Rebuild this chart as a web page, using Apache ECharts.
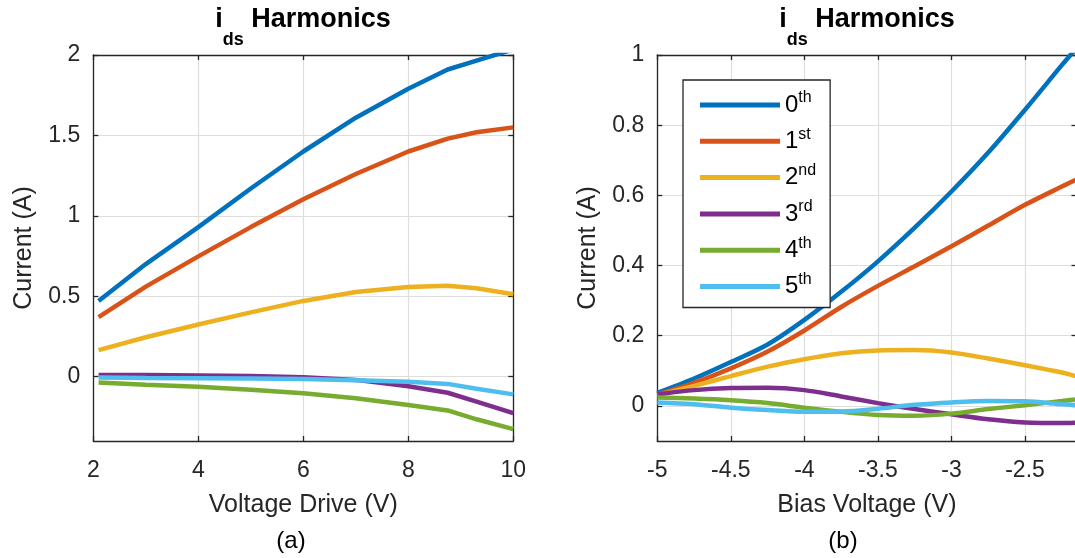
<!DOCTYPE html>
<html>
<head>
<meta charset="utf-8">
<script src="https://cdn.jsdelivr.net/npm/echarts@6/dist/echarts.min.js"></script>
<style>
  html, body { margin: 0; padding: 0; background: #fff; }
  #main { width: 1075px; height: 558px; }
</style>
</head>
<body>
<div id="main"></div>
<script>
// (a) harmonics vs voltage drive
var driveV = [2.1, 3, 4, 5, 6, 7, 8, 8.75, 9.3, 10];
var a_h0 = [0.47, 0.70, 0.93, 1.17, 1.40, 1.61, 1.79, 1.91, 1.965, 2.035];
var a_h1 = [0.37, 0.56, 0.748, 0.93, 1.103, 1.26, 1.40, 1.48, 1.52, 1.55];
var a_h2 = [0.165, 0.245, 0.324, 0.40, 0.471, 0.527, 0.558, 0.565, 0.55, 0.512];
var a_h3 = [0.01, 0.01, 0.008, 0.004, -0.004, -0.02, -0.06, -0.10, -0.155, -0.227];
var a_h4 = [-0.037, -0.05, -0.062, -0.082, -0.103, -0.134, -0.176, -0.21, -0.265, -0.326];
var a_h5 = [-0.005, -0.008, -0.01, -0.012, -0.015, -0.022, -0.032, -0.045, -0.075, -0.11];

// (b) harmonics vs bias voltage
var biasV = [-5, -4.75, -4.5, -4.25, -4, -3.75, -3.5, -3.25, -3, -2.75, -2.5, -2.25, -2.15];
var b_h0 = [0.037, 0.078, 0.125, 0.175, 0.245, 0.325, 0.412, 0.508, 0.611, 0.722, 0.844, 0.971, 1.02];
var b_h1 = [0.033, 0.066, 0.107, 0.155, 0.215, 0.282, 0.342, 0.398, 0.455, 0.514, 0.573, 0.625, 0.645];
var b_h2 = [0.030, 0.057, 0.085, 0.112, 0.133, 0.150, 0.158, 0.159, 0.152, 0.135, 0.116, 0.095, 0.084];
var b_h3 = [0.033, 0.045, 0.051, 0.052, 0.045, 0.027, 0.008, -0.009, -0.024, -0.038, -0.047, -0.049, -0.048];
var b_h4 = [0.024, 0.021, 0.016, 0.008, -0.005, -0.017, -0.026, -0.028, -0.022, -0.009, 0.002, 0.014, 0.019];
var b_h5 = [0.010, 0.005, -0.005, -0.012, -0.017, -0.016, -0.008, 0.003, 0.010, 0.014, 0.013, 0.005, 0.002];

var names = ['0th', '1st', '2nd', '3rd', '4th', '5th'];
var colors = ['#0072BD', '#D95319', '#EDB120', '#7E2F8E', '#77AC30', '#4DBEEE'];
var xTicksA = [2, 4, 6, 8, 10];
var xTicksB = [-5, -4.5, -4, -3.5, -3, -2.5];
var yTicksA = [0, 0.5, 1, 1.5, 2];
var yTicksB = [0, 0.2, 0.4, 0.6, 0.8, 1];

var FONT = '"Liberation Sans", Arial, Helvetica, sans-serif';
var AXC = '#262626';
var GRIDC = '#dedede';

function pairs(xs, ys) {
    var out = [];
    for (var i = 0; i < xs.length; i++) out.push([xs[i], ys[i]]);
    return out;
}

function mkX(gi, min, max, ticks, name, top) {
    return {
        type: 'value', gridIndex: gi, min: min, max: max,
        position: top ? 'top' : 'bottom',
        name: top ? '' : name, nameLocation: 'middle', nameGap: 52,
        nameTextStyle: { fontSize: 25, color: AXC, fontFamily: FONT },
        axisLine: { show: true, onZero: false, lineStyle: { color: AXC, width: 1.3 } },
        axisTick: { show: true, inside: true, length: 5, customValues: ticks, lineStyle: { color: AXC, width: 1.3 } },
        axisLabel: { show: !top, margin: 18, fontSize: 23, color: AXC, fontFamily: FONT, customValues: ticks },
        splitLine: { show: !top, lineStyle: { color: GRIDC, width: 1.2 } }
    };
}

function mkY(gi, min, max, ticks, name, right) {
    return {
        type: 'value', gridIndex: gi, min: min, max: max,
        position: right ? 'right' : 'left',
        name: right ? '' : name, nameLocation: 'middle', nameGap: 57,
        nameTextStyle: { fontSize: 25, color: AXC, fontFamily: FONT },
        axisLine: { show: true, onZero: false, lineStyle: { color: AXC, width: 1.3 } },
        axisTick: { show: true, inside: true, length: 5, customValues: ticks, lineStyle: { color: AXC, width: 1.3 } },
        axisLabel: { show: !right, margin: 13, fontSize: 23, color: AXC, fontFamily: FONT, customValues: ticks },
        splitLine: { show: !right, lineStyle: { color: GRIDC, width: 1.2 } }
    };
}

function mkSeries(gi, xs, ys, idx) {
    return {
        name: names[idx], type: 'line', xAxisIndex: gi * 2, yAxisIndex: gi * 2,
        data: pairs(xs, ys), showSymbol: false, symbol: 'none',
        smooth: gi === 1 ? 0.3 : false,
        lineStyle: { color: colors[idx], width: 4.5 },
        itemStyle: { color: colors[idx] }
    };
}

var titleRich = {
    m: { fontSize: 27, fontWeight: 'bold', color: '#000', fontFamily: FONT, lineHeight: 27, verticalAlign: 'top' },
    s: { fontSize: 18, fontWeight: 'bold', color: '#000', fontFamily: FONT, lineHeight: 43, verticalAlign: 'bottom' }
};
var supers = { '0th': ['0', 'th'], '1st': ['1', 'st'], '2nd': ['2', 'nd'], '3rd': ['3', 'rd'], '4th': ['4', 'th'], '5th': ['5', 'th'] };

var chart = echarts.init(document.getElementById('main'), null, { renderer: 'canvas' });
var option = {
    animation: false,
    backgroundColor: '#fff',
    textStyle: { fontFamily: FONT },
    title: [
        { text: '{m|i}{s|ds}{m| Harmonics}', left: 303, top: 6, textAlign: 'center', padding: 0,
          textStyle: { rich: titleRich } },
        { text: '{m|i}{s|ds}{m| Harmonics}', left: 867, top: 6, textAlign: 'center', padding: 0,
          textStyle: { rich: titleRich } }
    ],
    grid: [
        { left: 93.3, top: 55, width: 420, height: 386, show: false, outerBoundsMode: 'none' },
        { left: 657.3, top: 55, width: 419.2, height: 386, show: false, outerBoundsMode: 'none' }
    ],
    xAxis: [
        mkX(0, 2, 10, xTicksA, 'Voltage Drive (V)', false),
        mkX(0, 2, 10, xTicksA, '', true),
        mkX(1, -5, -2.15, xTicksB, 'Bias Voltage (V)', false),
        mkX(1, -5, -2.15, xTicksB, '', true)
    ],
    yAxis: [
        mkY(0, -0.4, 2, yTicksA, 'Current (A)', false),
        mkY(0, -0.4, 2, yTicksA, '', true),
        mkY(1, -0.1, 1, yTicksB, 'Current (A)', false),
        mkY(1, -0.1, 1, yTicksB, '', true)
    ],
    legend: {
        data: names, orient: 'vertical', left: 683, top: 80,
        backgroundColor: '#fff', borderColor: AXC, borderWidth: 1.3,
        padding: [10, 14, 9, 17], itemGap: 9.3,
        itemWidth: 80, itemHeight: 5, icon: 'rect',
        formatter: function (n) { return '{b|' + supers[n][0] + '}{s|' + supers[n][1] + '}'; },
        textStyle: {
            rich: {
                b: { fontSize: 24, color: '#000', fontFamily: FONT, lineHeight: 30 },
                s: { fontSize: 16, color: '#000', fontFamily: FONT, lineHeight: 16, verticalAlign: 'top' }
            }
        }
    },
    graphic: [
        { type: 'text', x: 291, y: 541, style: { text: '(a)', fill: '#000', font: '24px ' + FONT, textAlign: 'center', textVerticalAlign: 'middle' } },
        { type: 'text', x: 843, y: 541, style: { text: '(b)', fill: '#000', font: '24px ' + FONT, textAlign: 'center', textVerticalAlign: 'middle' } }
    ],
    series: [
        mkSeries(0, driveV, a_h0, 0),
        mkSeries(0, driveV, a_h1, 1),
        mkSeries(0, driveV, a_h2, 2),
        mkSeries(0, driveV, a_h3, 3),
        mkSeries(0, driveV, a_h4, 4),
        mkSeries(0, driveV, a_h5, 5),
        mkSeries(1, biasV, b_h0, 0),
        mkSeries(1, biasV, b_h1, 1),
        mkSeries(1, biasV, b_h2, 2),
        mkSeries(1, biasV, b_h3, 3),
        mkSeries(1, biasV, b_h4, 4),
        mkSeries(1, biasV, b_h5, 5)
    ]
};
chart.setOption(option);
</script>
</body>
</html>
